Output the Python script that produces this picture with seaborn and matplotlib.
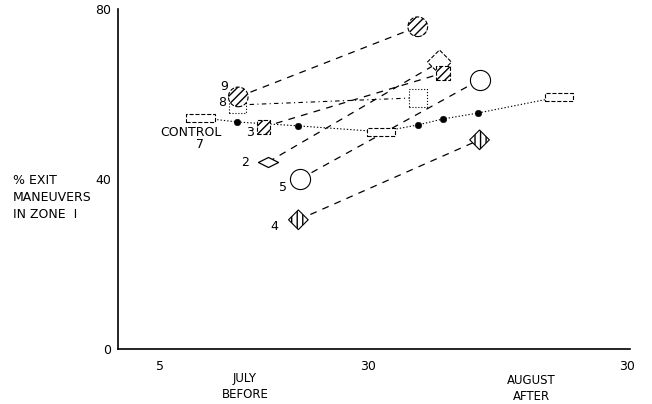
import numpy as np
import pandas as pd
import seaborn as sns
import matplotlib.pyplot as plt

# days counted from 30 June: July 5 = 5, July 30 = 30, August 30 = 61
s9_day = [14.4, 35.9]
s9_pct = [59.3, 75.8]
s8_day = [14.3, 35.9]
s8_pct = [57.4, 59.1]
s3_day = [17.4, 38.9]
s3_pct = [52.2, 64.9]
s2_day = [18.0, 38.5]
s2_pct = [44.0, 67.5]
s5_day = [21.8, 43.3]
s5_pct = [40.0, 63.3]
s4_day = [21.6, 43.3]
s4_pct = [30.4, 49.2]
control_day = [9.9, 14.3, 21.5, 31.5, 35.9, 38.9, 43.1, 52.8]
control_pct = [54.4, 53.4, 52.5, 51.1, 52.7, 54.1, 55.5, 59.3]
control_mark = ['rect', 'dot', 'dot', 'rect', 'dot', 'dot', 'dot', 'rect']

xtick_pos = [5, 30, 61]
xtick_lab = ['5', '30', '30']
ytick_pos = [0, 40, 80]

sns.set_style('white')
plt.rcParams['font.family'] = ['DejaVu Sans']
plt.rcParams['text.color'] = 'black'
plt.rcParams['xtick.color'] = 'black'
plt.rcParams['ytick.color'] = 'black'

fig = plt.figure(figsize=(6.52, 4.04), dpi=100)
ax = fig.add_axes([0.181, 0.136, 0.785, 0.842])

flat_diamond = [(-1, 0), (0, 0.5), (1, 0), (0, -0.5), (-1, 0)]
rect = [(-1, -0.28), (1, -0.28), (1, 0.28), (-1, 0.28), (-1, -0.28)]

# connecting lines
sns.lineplot(x=control_day, y=control_pct, ax=ax, color='black', lw=0.8,
             linestyle=(0, (1.2, 1.8)), zorder=1)
sns.lineplot(x=s8_day, y=s8_pct, ax=ax, color='black', lw=0.8,
             linestyle=(0, (4, 3, 1, 3)), zorder=1)
for d, p in [(s9_day, s9_pct), (s3_day, s3_pct), (s2_day, s2_pct),
             (s5_day, s5_pct), (s4_day, s4_pct)]:
    sns.lineplot(x=d, y=p, ax=ax, color='black', lw=0.9,
                 linestyle=(0, (5.5, 5)), zorder=1)

# markers
df_c = pd.DataFrame({'day': control_day, 'pct': control_pct, 'mark': control_mark})
sns.scatterplot(data=df_c[df_c.mark == 'rect'], x='day', y='pct', ax=ax,
                marker=rect, s=420, color='white', edgecolor='black',
                linewidth=0.8, linestyle='--', zorder=3)
sns.scatterplot(data=df_c[df_c.mark == 'dot'], x='day', y='pct', ax=ax,
                marker='o', s=22, color='black', edgecolor='black', zorder=3)

sns.scatterplot(x=s8_day, y=s8_pct, ax=ax, marker='s', s=[140, 170],
                color='white', edgecolor='black', linewidth=0.8,
                linestyle=':', zorder=3)
sns.scatterplot(x=s9_day, y=s9_pct, ax=ax, marker='o', s=200,
                color='white', edgecolor='black', linewidth=0.8,
                linestyle='--', hatch='////', zorder=4)
sns.scatterplot(x=s3_day, y=s3_pct, ax=ax, marker='s', s=95,
                color='white', edgecolor='black', linewidth=0.8,
                linestyle='--', hatch='////', zorder=3)
sns.scatterplot(x=s2_day[:1], y=s2_pct[:1], ax=ax, marker=flat_diamond, s=210,
                color='white', edgecolor='black', linewidth=0.9, zorder=3)
sns.scatterplot(x=s2_day[1:], y=s2_pct[1:], ax=ax, marker='D', s=150,
                color='white', edgecolor='black', linewidth=0.8,
                linestyle='--', zorder=2)
sns.scatterplot(x=s5_day, y=s5_pct, ax=ax, marker='o', s=210,
                color='white', edgecolor='black', linewidth=0.8, zorder=3)
sns.scatterplot(x=s4_day, y=s4_pct, ax=ax, marker='D', s=100,
                color='white', edgecolor='black', linewidth=0.8,
                hatch='|||', zorder=3)

# series labels
lab_kw = dict(textcoords='offset points', fontsize=9, ha='center', va='center')
ax.annotate('9', (s9_day[0], s9_pct[0]), xytext=(-10, 7.5), **lab_kw)
ax.annotate('8', (s8_day[0], s8_pct[0]), xytext=(-11, 2), **lab_kw)
ax.annotate('CONTROL', (control_day[0], control_pct[0]), xytext=(-7, -10.5), **lab_kw)
ax.annotate('7', (control_day[0], control_pct[0]), xytext=(-0.7, -19), **lab_kw)
ax.annotate('3', (s3_day[0], s3_pct[0]), xytext=(-9.5, -3.6), **lab_kw)
ax.annotate('2', (s2_day[0], s2_pct[0]), xytext=(-16.5, -0.7), **lab_kw)
ax.annotate('5', (s5_day[0], s5_pct[0]), xytext=(-12, -5.8), **lab_kw)
ax.annotate('4', (s4_day[0], s4_pct[0]), xytext=(-17.3, -5), **lab_kw)

# axes
ax.set_xlim(0, 61.3)
ax.set_ylim(0, 80)
ax.set_xticks(xtick_pos)
ax.set_xticklabels(xtick_lab, fontsize=9)
ax.set_yticks(ytick_pos)
ax.set_yticklabels([str(v) for v in ytick_pos], fontsize=9)
ax.tick_params(axis='y', direction='out', length=3, width=0.8, pad=2)
ax.tick_params(axis='x', direction='inout', length=6, width=0.8, pad=5)
sns.despine(ax=ax)
for sp in ['left', 'bottom']:
    ax.spines[sp].set_linewidth(1.2)
    ax.spines[sp].set_color('black')
ax.set_xlabel('')
ax.set_ylabel('')

ax.text(15.2, -0.068, 'JULY\nBEFORE', transform=ax.get_xaxis_transform(),
        ha='center', va='top', fontsize=8.5, linespacing=1.3)
ax.text(49.5, -0.074, 'AUGUST\nAFTER', transform=ax.get_xaxis_transform(),
        ha='center', va='top', fontsize=8.5, linespacing=1.3)
fig.text(0.02, 0.51, '% EXIT\nMANEUVERS\nIN ZONE  I', ha='left', va='center',
         fontsize=9, linespacing=1.4)

fig.savefig('out.png', dpi=100, facecolor='white')
